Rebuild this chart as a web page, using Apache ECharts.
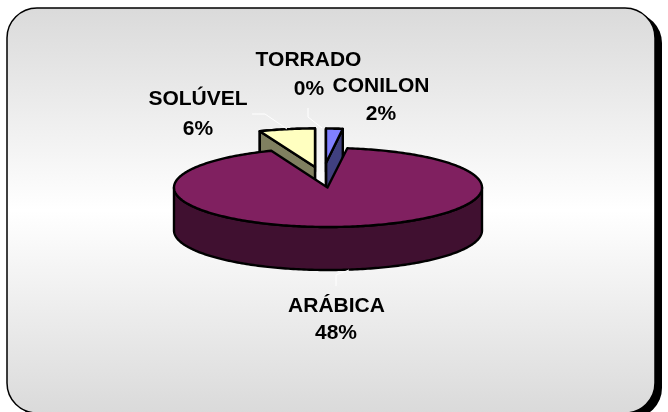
<!DOCTYPE html>
<html>
<head>
<meta charset="utf-8">
<title>Café</title>
<script src="https://cdn.jsdelivr.net/npm/echarts@6/dist/echarts.min.js"></script>
<style>
  html, body { margin: 0; padding: 0; background: #fff; }
  #chart { width: 668px; height: 412px; }
</style>
</head>
<body>
<div id="chart"></div>
<script>
// clockwise from twelve o'clock, same order as the drawn slices
const categories = ['CONILON', 'ARÁBICA', 'SOLÚVEL', 'TORRADO']
// printed on the labels
const labelValues = [2, 48, 6, 0]
// measured from the arcs in the picture (they do not follow the 48% label)
const sliceShares = [2, 92, 6, 0]

// back slices first, the big one has to cover their hidden walls
const drawOrder = [0, 3, 2, 1]

const colors = ['#8080ff', '#802060', '#ffffc0', '#ffffff']
const wallColors = ['#404080', '#401030', '#808060', '#808080']

// pie projection
const cx = 328, cy = 187.5, rx = 154, squash = 39.5 / 154, depth = 43
// where each slice tip sits and how long it is (exploded slices)
const tips = [[326, 163], [327.5, 187.5], [315, 167], [322, 165]]
const radii = [134, 154, 150, 154]
// name x,y then percent x,y
const labelPos = [[381, 86, 381, 114.5], [336.5, 306, 336, 333], [198, 99, 198, 129.5], [308.5, 60, 309, 89]]
const leaders = [null, [[349, 270], [336, 275], [336, 286]], [[252, 114], [265, 114], [287, 129]], [[308, 108], [308, 117], [322, 128]]]

const total = sliceShares.reduce((a, b) => a + b, 0)

function startAngle(i) {
    let sum = 0
    for (let k = 0; k < i; k++) sum += sliceShares[k]
    return sum / total * 360
}

function onRim(tip, r, deg, drop) {
    const a = deg * Math.PI / 180
    return [tip[0] + r * Math.sin(a), tip[1] - r * Math.cos(a) * squash + (drop || 0)]
}

function arc(tip, r, from, to, drop) {
    const pts = []
    const n = Math.max(1, Math.ceil(Math.abs(to - from)))
    for (let k = 0; k <= n; k++) pts.push(onRim(tip, r, from + (to - from) * k / n, drop))
    return pts
}

function poly(points, fill) {
    return { type: 'polygon', shape: { points: points }, style: { fill: fill, stroke: '#000', lineWidth: 2.4, lineJoin: 'round' } }
}

function drawSlice(params, api) {
    const i = api.value(0)
    const from = startAngle(i)
    const to = from + sliceShares[i] / total * 360
    const tip = tips[i]
    const r = radii[i]
    const children = []

    if (sliceShares[i] > 0) {
        if (i === 1) {
            // front wall of the big slice, only the lower half can be seen
            const a = Math.max(from, 90), b = Math.min(to, 270)
            const rim = arc([cx, cy], rx, a, b)
            children.push(poly(rim.concat(arc([cx, cy], rx, b, a, depth)), wallColors[i]))
            children.push(poly([tip].concat(arc([cx, cy], rx, from, to)), colors[i]))
        } else {
            const rim = arc(tip, r, from, to)
            const low = t => [t[0], t[1] + depth]
            children.push(poly(rim.concat(arc(tip, r, to, from, depth)), wallColors[i]))
            children.push(poly([tip, low(tip), low(rim[rim.length - 1]), rim[rim.length - 1]], wallColors[i]))
            children.push(poly([tip, low(tip), low(rim[0]), rim[0]], wallColors[i]))
            children.push(poly([tip].concat(rim), colors[i]))
        }
    }

    if (leaders[i]) {
        children.push({ type: 'polyline', shape: { points: leaders[i] }, style: { fill: null, stroke: '#fff', lineWidth: 1 } })
    }

    const p = labelPos[i]
    const font = 'bold 21px "Liberation Sans", Arial, sans-serif'
    children.push({ type: 'text', style: { text: categories[i], x: p[0], y: p[1], fill: '#000', font: font, align: 'center', verticalAlign: 'middle' } })
    children.push({ type: 'text', style: { text: labelValues[i] + '%', x: p[2], y: p[3], fill: '#000', font: font, align: 'center', verticalAlign: 'middle' } })

    return { type: 'group', children: children }
}

const myChart = echarts.init(document.getElementById('chart'), null, { renderer: 'canvas' })

const panel = { x: 7, y: 8, width: 648, height: 405, r: 30 }

myChart.setOption({
    animation: false,
    backgroundColor: '#fff',
    graphic: [
        // hard shadow on the right and bottom
        { type: 'rect', z: 0, shape: { x: panel.x + 7, y: panel.y + 5, width: panel.width, height: panel.height, r: panel.r }, style: { fill: '#000' } },
        {
            type: 'rect', z: 1,
            shape: panel,
            style: {
                fill: new echarts.graphic.LinearGradient(0, 0, 0, 1, [
                    { offset: 0, color: '#dadada' },
                    { offset: 0.5, color: '#ffffff' },
                    { offset: 1, color: '#dadada' }
                ]),
                stroke: '#000',
                lineWidth: 1.5
            }
        }
    ],
    series: [{
        type: 'custom',
        coordinateSystem: 'none',
        silent: true,
        z: 5,
        renderItem: drawSlice,
        data: drawOrder.map(i => [i]),
        encode: { tooltip: [] }
    }]
})
</script>
</body>
</html>
